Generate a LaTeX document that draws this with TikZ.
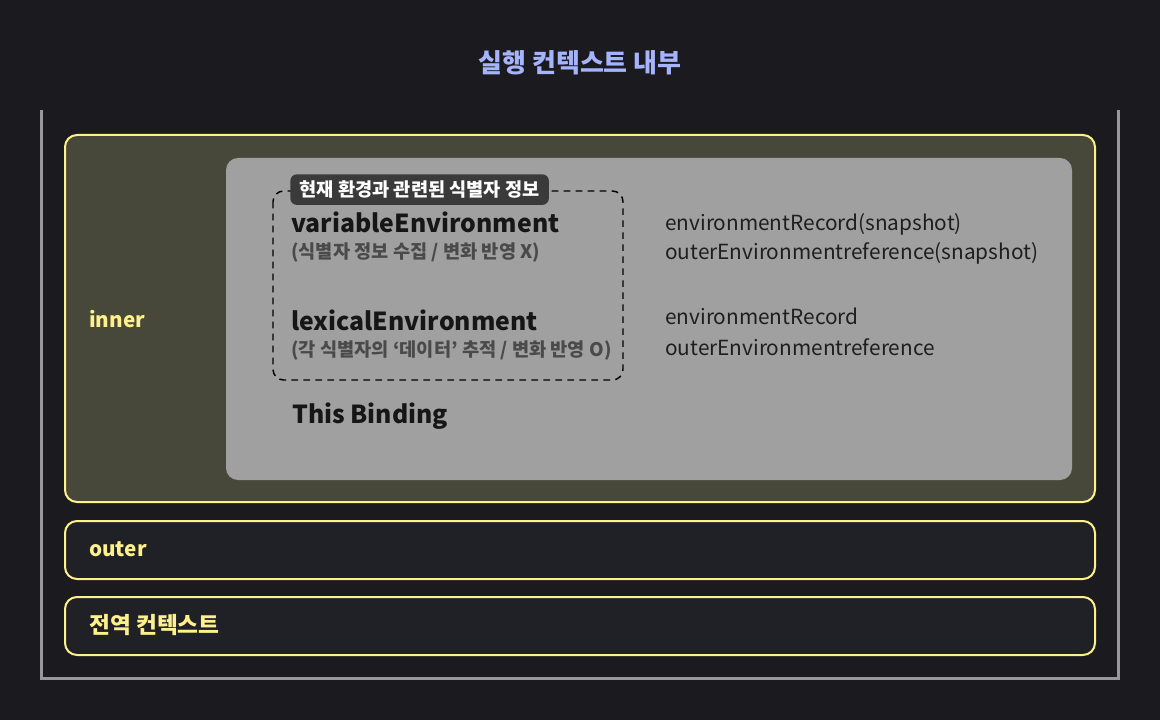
\documentclass[tikz,border=0pt]{standalone}
\usepackage{fontspec}
\setmainfont{Noto Sans CJK KR}
\definecolor{bgc}{HTML}{1B1A1F}
\definecolor{framec}{HTML}{98979C}
\definecolor{yel}{HTML}{FEF08A}
\definecolor{innerfill}{HTML}{48483A}
\definecolor{boxfill}{HTML}{202126}
\definecolor{panel}{HTML}{A0A0A0}
\definecolor{tagc}{HTML}{3A3A3A}
\definecolor{titlec}{HTML}{A5B4FC}
\definecolor{darktext}{HTML}{161616}
\definecolor{subtext}{HTML}{4A4A4A}
\definecolor{righttext}{HTML}{1E1E1E}
\tikzset{
  ctxbox/.style={draw=yel, line width=1.5pt, rounded corners=9pt},
  ylabel/.style={anchor=base west, inner sep=0pt, text=yel, font=\fontsize{15.5pt}{18pt}\selectfont\bfseries},
  envname/.style={anchor=base west, inner sep=0pt, text=darktext, font=\fontsize{18.6pt}{22pt}\selectfont\bfseries},
  envsub/.style={anchor=base west, inner sep=0pt, text=subtext, font=\fontsize{14pt}{17pt}\selectfont\bfseries},
  rectext/.style={anchor=base west, inner sep=0pt, text=righttext, font=\fontsize{15.6pt}{18pt}\selectfont},
}
\begin{document}
\begin{tikzpicture}[x=0.75pt,y=-0.75pt]
\fill[bgc] (0,0) rectangle (1160,720);
\useasboundingbox (0,0) rectangle (1160,720);
% title
\node[anchor=base, inner sep=0pt, text=titlec, font=\fontsize{19.5pt}{23pt}\selectfont\bfseries] (title) at (580,73) {실행 컨텍스트 내부};
% frame (open at top)
\draw[framec, line width=2.2pt] (41.5,110) -- (41.5,678.5) -- (1118.5,678.5) -- (1118.5,110);
% inner context
\draw[ctxbox, fill=innerfill] (65,135) rectangle (1095,502);
\node[ylabel] (inner) at (89,327) {inner};
% gray panel
\fill[panel, rounded corners=9pt] (226,158) rectangle (1072,480);
% dashed box
\draw[black, line width=1.1pt, dash pattern=on 5pt off 4pt, rounded corners=8pt] (273,191) rectangle (623,380);
% tag
\node[anchor=north west, fill=tagc, rounded corners=5pt, minimum width=194pt, minimum height=23pt, inner sep=0pt, text=white, font=\fontsize{14pt}{16pt}\selectfont\bfseries] (tag) at (290,174) {현재 환경과 관련된 식별자 정보};
% environments
\node[envname] (venv) at (291,233) {variableEnvironment};
\node[envsub] (vsub) at (291,259) {(식별자 정보 수집 / 변화 반영 X)};
\node[envname] (lenv) at (291,330) {lexicalEnvironment};
\node[envsub] (lsub) at (291,356) {(각 식별자의 ‘데이터’ 추적 / 변화 반영 O)};
\node[envname] (thisb) at (292,423) {This Binding};
% right texts
\node[rectext] (r1) at (665,231) {environmentRecord(snapshot)};
\node[rectext] (r2) at (665,260) {outerEnvironmentreference(snapshot)};
\node[rectext] (r3) at (665,325) {environmentRecord};
\node[rectext] (r4) at (665,355) {outerEnvironmentreference};
% outer
\draw[ctxbox, fill=boxfill] (65,521) rectangle (1095,579);
\node[ylabel] (outer) at (89,556) {outer};
% global
\draw[ctxbox, fill=boxfill] (65,597) rectangle (1095,655);
\node[ylabel, font=\fontsize{17pt}{20pt}\selectfont\bfseries] (global) at (89,633) {전역 컨텍스트};
\end{tikzpicture}
\end{document}
